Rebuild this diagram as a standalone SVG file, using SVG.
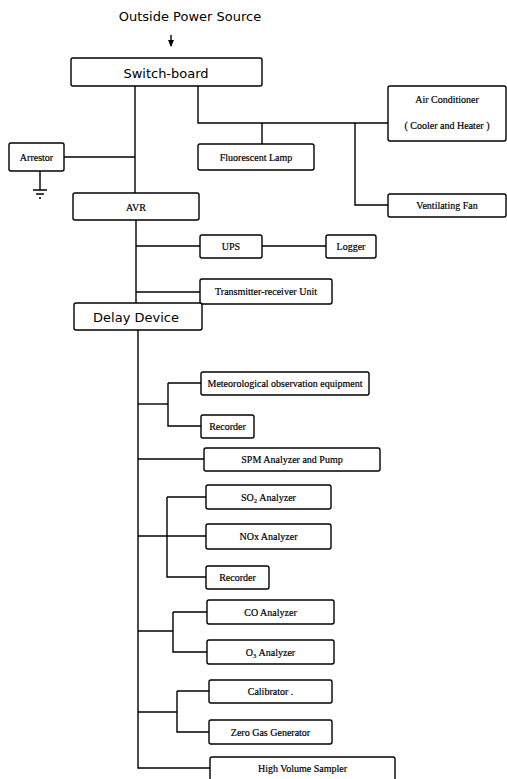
<svg xmlns="http://www.w3.org/2000/svg" width="507" height="779" viewBox="0 0 507 779">
<defs>
<style>
.box{fill:#fff;stroke:#000;stroke-width:1.4}
.ln{fill:none;stroke:#000;stroke-width:1.4}
.s{font-family:"Liberation Serif",serif;font-size:10px;fill:#000;text-anchor:middle;stroke:#000;stroke-width:0.2}
.t{font-family:"DejaVu Sans","Liberation Sans",sans-serif;font-size:13px;fill:#000;text-anchor:middle}
</style>
<marker id="ah" markerWidth="7" markerHeight="6" refX="6" refY="3" orient="auto" markerUnits="userSpaceOnUse">
<path d="M0,0 L7,3 L0,6 Z" fill="#000"/>
</marker>
</defs>
<rect width="507" height="779" fill="#fff"/>
<text class="t" x="190" y="21" font-size="12">Outside Power Source</text>
<g id="connectors">
<path class="ln" d="M171,35 V46" marker-end="url(#ah)"/>
<path class="ln" d="M135,86 V193"/>
<path class="ln" d="M64,157 H135"/>
<path class="ln" d="M40,171 V190 M33,190 H47 M36,194 H44 M39,198 H41"/>
<path class="ln" d="M198,86 V123 H388"/>
<path class="ln" d="M262,123 V144"/>
<path class="ln" d="M355,123 V205 H388"/>
<path class="ln" d="M136,220 V303"/>
<path class="ln" d="M136,246 H200"/>
<path class="ln" d="M262,246 H326"/>
<path class="ln" d="M136,292 H200"/>
<path class="ln" d="M138,330 V768 H210"/>
<path class="ln" d="M138,404 H168"/>
<path class="ln" d="M168,383 V426 H201 M168,383 H201"/>
<path class="ln" d="M138,459 H204"/>
<path class="ln" d="M167,497 H206 M167,497 V577 H206"/>
<path class="ln" d="M138,536 H206"/>
<path class="ln" d="M173,612 H207 M173,612 V652 H207"/>
<path class="ln" d="M138,631 H173"/>
<path class="ln" d="M177,691 H209 M177,691 V732 H209"/>
<path class="ln" d="M138,712 H177"/>
</g>
<g id="switchboard"><rect class="box" x="71" y="58" width="191" height="28" rx="2"/><text class="t" x="166" y="78">Switch-board</text></g>
<g id="arrestor"><rect class="box" x="9" y="143" width="55" height="28" rx="2"/><text class="s" x="36.5" y="161">Arrestor</text></g>
<g id="fluorescent"><rect class="box" x="198" y="144" width="116" height="26" rx="2"/><text class="s" x="256" y="161">Fluorescent Lamp</text></g>
<g id="aircon"><rect class="box" x="388" y="86" width="118" height="55" rx="2"/><text class="s" x="447" y="103">Air Conditioner</text><text class="s" x="447" y="129">( Cooler and Heater )</text></g>
<g id="fan"><rect class="box" x="388" y="194" width="118" height="23" rx="2"/><text class="s" x="447" y="209">Ventilating Fan</text></g>
<g id="avr"><rect class="box" x="73" y="193" width="126" height="27" rx="2"/><text class="s" x="136" y="211" font-size="11">AVR</text></g>
<g id="ups"><rect class="box" x="200" y="235" width="62" height="23" rx="2"/><text class="s" x="231" y="250">UPS</text></g>
<g id="logger"><rect class="box" x="326" y="235" width="50" height="23" rx="2"/><text class="s" x="351" y="250">Logger</text></g>
<g id="transmitter"><rect class="box" x="200" y="279" width="132" height="25" rx="2"/><text class="s" x="266" y="295">Transmitter-receiver Unit</text></g>
<g id="delay"><rect class="box" x="74" y="303" width="128" height="27" rx="2"/><text class="t" x="136" y="322" font-size="14">Delay Device</text></g>
<g id="meteo"><rect class="box" x="201" y="372" width="168" height="23" rx="2"/><text class="s" x="285" y="387">Meteorological observation equipment</text></g>
<g id="recorder1"><rect class="box" x="201" y="415" width="53" height="23" rx="2"/><text class="s" x="227.5" y="430">Recorder</text></g>
<g id="spm"><rect class="box" x="204" y="448" width="176" height="23" rx="2"/><text class="s" x="292" y="463">SPM Analyzer and Pump</text></g>
<g id="so2"><rect class="box" x="206" y="485" width="125" height="24" rx="2"/><text class="s" x="268.5" y="501">SO₂ Analyzer</text></g>
<g id="nox"><rect class="box" x="206" y="524" width="125" height="25" rx="2"/><text class="s" x="268.5" y="540">NOx Analyzer</text></g>
<g id="recorder2"><rect class="box" x="206" y="566" width="63" height="23" rx="2"/><text class="s" x="237.5" y="581">Recorder</text></g>
<g id="co"><rect class="box" x="207" y="600" width="127" height="24" rx="2"/><text class="s" x="270.5" y="616">CO Analyzer</text></g>
<g id="o3"><rect class="box" x="207" y="640" width="127" height="24" rx="2"/><text class="s" x="270.5" y="656">O₃ Analyzer</text></g>
<g id="calibrator"><rect class="box" x="209" y="680" width="123" height="23" rx="2"/><text class="s" x="270.5" y="695">Calibrator .</text></g>
<g id="zerogas"><rect class="box" x="209" y="720" width="123" height="24" rx="2"/><text class="s" x="270.5" y="736">Zero Gas Generator</text></g>
<g id="hvs"><rect class="box" x="210" y="757" width="185" height="24" rx="2"/><text class="s" x="302.5" y="772">High Volume Sampler</text></g>
</svg>
